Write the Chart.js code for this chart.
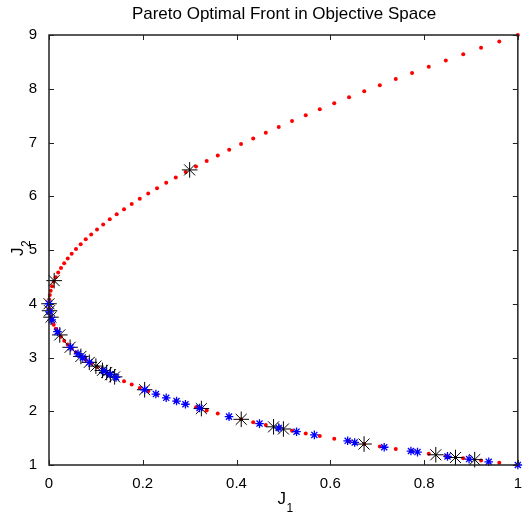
<!DOCTYPE html>
<html>
<head>
<meta charset="utf-8">
<script src="https://cdn.jsdelivr.net/npm/chart.js@4"></script>
<style>
  body { margin: 0; background: #fff; }
  canvas { display: block; }
</style>
</head>
<body>
<canvas id="paretoChart" width="524" height="517"></canvas>
<script>
// front points (same J1 for both branches)
const frontJ1 = [0, 0.0004, 0.0016, 0.0036, 0.0064, 0.01, 0.0144, 0.0196, 0.0256, 0.0324, 0.04, 0.0484, 0.0576, 0.0676, 0.0784, 0.09, 0.1024, 0.1156, 0.1296, 0.1444, 0.16, 0.1764, 0.1936, 0.2116, 0.2304, 0.25, 0.2704, 0.2916, 0.3136, 0.3364, 0.36, 0.3844, 0.4096, 0.4356, 0.4624, 0.49, 0.5184, 0.5476, 0.5776, 0.6084, 0.64, 0.6724, 0.7056, 0.7396, 0.7744, 0.81, 0.8464, 0.8836, 0.9216, 0.9604, 1];
const upperJ2 = [4, 4.08, 4.162, 4.244, 4.326, 4.41, 4.494, 4.58, 4.666, 4.752, 4.84, 4.928, 5.018, 5.108, 5.198, 5.29, 5.382, 5.476, 5.57, 5.664, 5.76, 5.856, 5.954, 6.052, 6.15, 6.25, 6.35, 6.452, 6.554, 6.656, 6.76, 6.864, 6.97, 7.076, 7.182, 7.29, 7.398, 7.508, 7.618, 7.728, 7.84, 7.952, 8.066, 8.18, 8.294, 8.41, 8.526, 8.644, 8.762, 8.88, 9];
const lowerJ2 = [4, 3.92, 3.842, 3.764, 3.686, 3.61, 3.534, 3.46, 3.386, 3.312, 3.24, 3.168, 3.098, 3.028, 2.958, 2.89, 2.822, 2.756, 2.69, 2.624, 2.56, 2.496, 2.434, 2.372, 2.31, 2.25, 2.19, 2.132, 2.074, 2.016, 1.96, 1.904, 1.85, 1.796, 1.742, 1.69, 1.638, 1.588, 1.538, 1.488, 1.44, 1.392, 1.346, 1.3, 1.254, 1.21, 1.166, 1.124, 1.082, 1.04, 1];

// blue asterisks
const blueJ1 = [0, 0.0014, 0.0059, 0.018, 0.046, 0.062, 0.072, 0.086, 0.117, 0.13, 0.143, 0.204, 0.228, 0.25, 0.272, 0.291, 0.321, 0.384, 0.449, 0.49, 0.528, 0.566, 0.637, 0.652, 0.715, 0.772, 0.786, 0.85, 0.896, 0.938, 1];
const blueJ2 = [4, 3.85, 3.7, 3.48, 3.19, 3.07, 3.0, 2.91, 2.75, 2.69, 2.63, 2.4, 2.32, 2.25, 2.19, 2.13, 2.06, 1.9, 1.77, 1.69, 1.62, 1.56, 1.45, 1.42, 1.33, 1.26, 1.24, 1.16, 1.11, 1.06, 1];

// big black asterisks
const blackJ1 = [0.011, 0.3, 0, 0.0011, 0.0042, 0.023, 0.045, 0.068, 0.086, 0.1, 0.114, 0.123, 0.131, 0.14, 0.204, 0.325, 0.41, 0.479, 0.5, 0.672, 0.825, 0.867, 0.908];
const blackJ2 = [4.43, 6.49, 4, 3.87, 3.75, 3.42, 3.19, 3.02, 2.91, 2.84, 2.76, 2.72, 2.68, 2.64, 2.4, 2.05, 1.85, 1.71, 1.67, 1.39, 1.19, 1.14, 1.1];

const xTicks = [0, 0.2, 0.4, 0.6, 0.8, 1];
const yTicks = [1, 2, 3, 4, 5, 6, 7, 8, 9];

const FONT = '"Liberation Sans", Arial, sans-serif';
const toPts = (xs, ys) => xs.map((x, i) => ({ x, y: ys[i] }));

// matlab style box, inward ticks, title and subscripted axis labels
const matlabFrame = {
  id: 'matlabFrame',
  afterDraw(chart) {
    const { ctx, chartArea: a, scales } = chart;
    ctx.save();
    ctx.strokeStyle = '#222';
    ctx.lineWidth = 1.5;
    ctx.strokeRect(a.left, a.top, a.right - a.left, a.bottom - a.top);

    ctx.lineWidth = 1;
    ctx.beginPath();
    xTicks.forEach(v => {
      const px = Math.round(scales.x.getPixelForValue(v)) + 0.5;
      ctx.moveTo(px, a.bottom); ctx.lineTo(px, a.bottom - 5);
      ctx.moveTo(px, a.top); ctx.lineTo(px, a.top + 5);
    });
    yTicks.forEach(v => {
      const py = Math.round(scales.y.getPixelForValue(v)) + 0.5;
      ctx.moveTo(a.left, py); ctx.lineTo(a.left + 5, py);
      ctx.moveTo(a.right, py); ctx.lineTo(a.right - 5, py);
    });
    ctx.stroke();

    ctx.fillStyle = '#000';
    ctx.textAlign = 'center';
    ctx.textBaseline = 'alphabetic';
    ctx.font = '17px ' + FONT;
    ctx.fillText('Pareto Optimal Front in Objective Space', 284, 19);

    // J1
    const cx = (a.left + a.right) / 2;
    ctx.textAlign = 'left';
    ctx.font = '17px ' + FONT;
    ctx.fillText('J', cx - 6, 504);
    ctx.font = '12px ' + FONT;
    ctx.fillText('1', cx + 3, 512);

    // J2, rotated
    ctx.translate(23, (a.top + a.bottom) / 2);
    ctx.rotate(-Math.PI / 2);
    ctx.font = '17px ' + FONT;
    ctx.fillText('J', -6, 0);
    ctx.font = '12px ' + FONT;
    ctx.fillText('2', 3, 7);
    ctx.restore();
  }
};

new Chart(document.getElementById('paretoChart'), {
  type: 'scatter',
  data: {
    // first dataset is painted last, so blue ends up on top
    datasets: [
      {
        label: 'solutions',
        data: toPts(blueJ1, blueJ2),
        pointStyle: 'star',
        pointRadius: 4.3,
        borderColor: '#0000ff',
        borderWidth: 1.3,
        backgroundColor: 'transparent',
        clip: false
      },
      {
        label: 'selected',
        data: toPts(blackJ1, blackJ2),
        pointStyle: 'star',
        pointRadius: 7.8,
        borderColor: '#000',
        borderWidth: 1,
        backgroundColor: 'transparent',
        clip: false
      },
      {
        label: 'front upper',
        data: toPts(frontJ1, upperJ2),
        pointStyle: 'circle',
        pointRadius: 2,
        backgroundColor: '#ff0000',
        borderWidth: 0,
        clip: false
      },
      {
        label: 'front lower',
        data: toPts(frontJ1, lowerJ2),
        pointStyle: 'circle',
        pointRadius: 2,
        backgroundColor: '#ff0000',
        borderWidth: 0,
        clip: false
      }
    ]
  },
  options: {
    responsive: false,
    animation: false,
    events: [],
    layout: { autoPadding: false, padding: { top: 35, right: 5, left: 0, bottom: 0 } },
    plugins: {
      legend: { display: false },
      title: { display: false },
      tooltip: { enabled: false }
    },
    scales: {
      x: {
        type: 'linear',
        min: 0,
        max: 1,
        grid: { display: false },
        border: { display: false },
        ticks: {
          stepSize: 0.2,
          padding: 2,
          color: '#000',
          font: { family: FONT, size: 15 },
          maxRotation: 0,
          callback: v => String(Math.round(v * 10) / 10)
        },
        afterFit(s) { s.height = 52; }
      },
      y: {
        min: 1,
        max: 9,
        grid: { display: false },
        border: { display: false },
        ticks: { stepSize: 1, padding: 4, color: '#000', font: { family: FONT, size: 15 } },
        afterFit(s) { s.width = 49; }
      }
    }
  },
  plugins: [matlabFrame]
});
</script>
</body>
</html>
